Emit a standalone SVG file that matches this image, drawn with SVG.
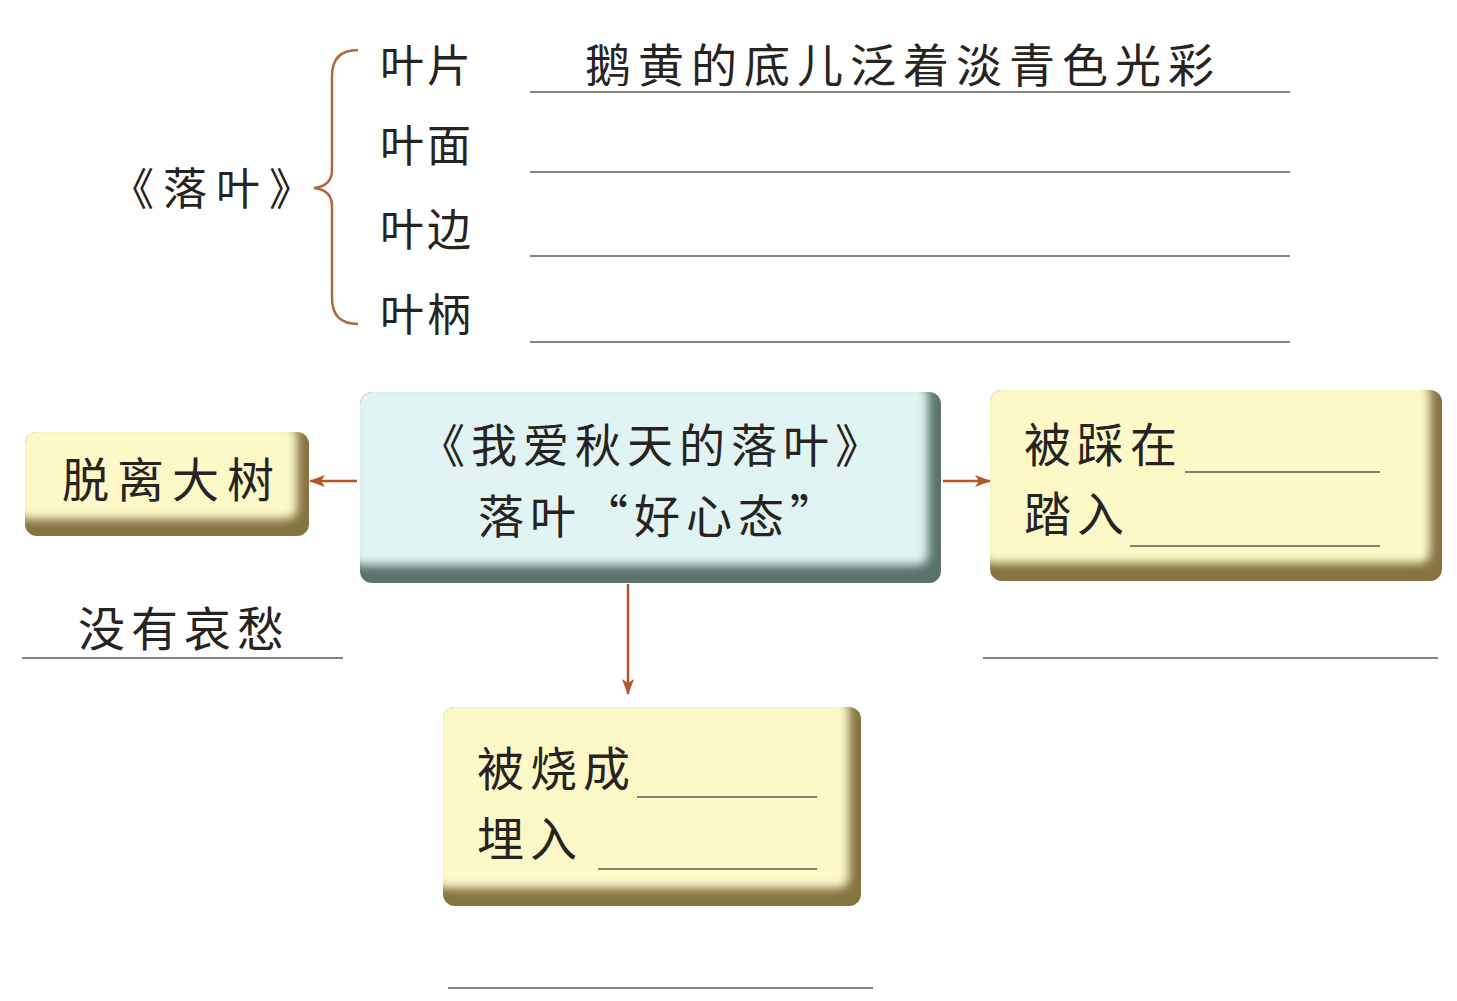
<svg xmlns="http://www.w3.org/2000/svg" width="1457" height="1001" viewBox="0 0 1457 1001">
<style>
.t{font-family:"Noto Sans CJK SC","Noto Sans CJK TC",sans-serif;fill:#262320;}
.f44{font-size:44px;letter-spacing:3px;}
.f46{font-size:46px;letter-spacing:4px;}
.f48{font-size:47px;letter-spacing:6px;}
.ln{stroke:#5a5a5a;stroke-width:1.6;fill:none;}
.arr{stroke:#b4562a;stroke-width:2.5;fill:none;}
.brace{stroke:#b0683c;stroke-width:2.5;fill:none;}
.yb{fill:#857440;}
.yf{fill:#fdf8c8;}
.tb{fill:#5a726c;}
.tf{fill:#e0f4f3;}
</style>
<defs>
<marker id="ah" viewBox="0 0 16 12" refX="15" refY="6" markerWidth="16" markerHeight="12" markerUnits="userSpaceOnUse" orient="auto">
<path d="M0,0 L16,6 L0,12 L4,6 Z" fill="#b4562a"/>
</marker>
<filter id="soft" x="-10%" y="-10%" width="120%" height="120%"><feGaussianBlur stdDeviation="5"/></filter>
<clipPath id="cL"><rect x="25" y="432" width="284" height="104" rx="12"/></clipPath>
<clipPath id="cC"><rect x="360" y="392" width="581" height="191" rx="12"/></clipPath>
<clipPath id="cR"><rect x="990" y="390" width="452" height="191" rx="12"/></clipPath>
<clipPath id="cB"><rect x="443" y="707" width="418" height="199" rx="12"/></clipPath>
</defs>

<g id="title-luoye">
<text class="t f44" x="110" y="205" style="letter-spacing:9px">《落叶》</text>
<path class="brace" d="M358,50 Q332,50 332,76 L332,170 Q332,186 314,188 Q332,190 332,206 L332,298 Q332,324 358,324"/>
</g>

<g id="row-yepian">
<text class="t f44" x="380" y="82">叶片</text>
<text class="t f46" x="585" y="82" style="letter-spacing:7px">鹅黄的底儿泛着淡青色光彩</text>
<line class="ln" x1="530" y1="92" x2="1290" y2="92"/>
</g>
<g id="row-yemian">
<text class="t f44" x="380" y="162">叶面</text>
<line class="ln" x1="530" y1="172" x2="1290" y2="172"/>
</g>
<g id="row-yebian">
<text class="t f44" x="380" y="246">叶边</text>
<line class="ln" x1="530" y1="256" x2="1290" y2="256"/>
</g>
<g id="row-yebing">
<text class="t f44" x="380" y="331">叶柄</text>
<line class="ln" x1="530" y1="342" x2="1290" y2="342"/>
</g>

<g id="connectors">
<line class="arr" x1="357" y1="481" x2="310" y2="481" marker-end="url(#ah)"/>
<line class="arr" x1="943" y1="481" x2="990" y2="481" marker-end="url(#ah)"/>
<line class="arr" x1="628" y1="584" x2="628" y2="694" marker-end="url(#ah)"/>
</g>

<g id="node-center">
<g clip-path="url(#cC)">
<rect class="tb" x="360" y="392" width="581" height="191"/>
<rect class="tf" x="352" y="384" width="576" height="181" rx="10" filter="url(#soft)"/>
</g>
<text class="t f46" x="653" y="462" text-anchor="middle" style="letter-spacing:6px">《我爱秋天的落叶》</text>
<text class="t f46" x="660" y="533" text-anchor="middle" style="letter-spacing:6px">落叶“好心态”</text>
</g>

<g id="node-left">
<g clip-path="url(#cL)">
<rect class="yb" x="25" y="432" width="284" height="104"/>
<rect class="yf" x="17" y="424" width="280" height="95" rx="10" filter="url(#soft)"/>
</g>
<text class="t f48" x="62" y="497" style="letter-spacing:8px">脱离大树</text>
</g>

<g id="note-left">
<text class="t f48" x="78" y="646">没有哀愁</text>
<line class="ln" x1="22" y1="658" x2="343" y2="658"/>
</g>

<g id="node-right">
<g clip-path="url(#cR)">
<rect class="yb" x="990" y="390" width="452" height="191"/>
<rect class="yf" x="982" y="382" width="448" height="181" rx="10" filter="url(#soft)"/>
</g>
<text class="t f48" x="1024" y="462">被踩在</text>
<line class="ln" x1="1185" y1="472" x2="1380" y2="472"/>
<text class="t f48" x="1024" y="531">踏入</text>
<line class="ln" x1="1130" y1="546" x2="1380" y2="546"/>
</g>
<line class="ln" x1="983" y1="658" x2="1438" y2="658"/>

<g id="node-bottom">
<g clip-path="url(#cB)">
<rect class="yb" x="443" y="707" width="418" height="199"/>
<rect class="yf" x="435" y="699" width="414" height="189" rx="10" filter="url(#soft)"/>
</g>
<text class="t f48" x="477" y="786">被烧成</text>
<line class="ln" x1="637" y1="797" x2="817" y2="797"/>
<text class="t f48" x="477" y="856">埋入</text>
<line class="ln" x1="598" y1="869" x2="817" y2="869"/>
</g>
<line class="ln" x1="448" y1="988" x2="873" y2="988"/>
</svg>
